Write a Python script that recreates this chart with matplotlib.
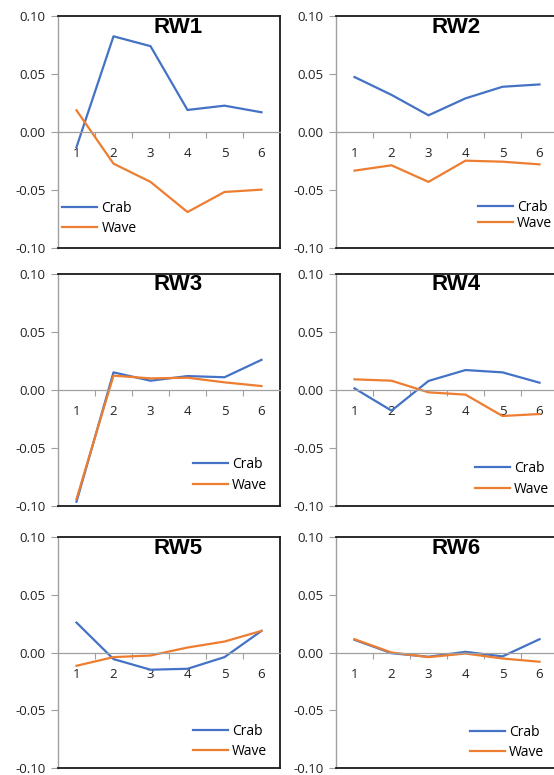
import matplotlib
matplotlib.use('Agg')
import matplotlib.pyplot as plt

# data
cats = [1, 2, 3, 4, 5, 6]
titles = ["RW1", "RW2", "RW3", "RW4", "RW5", "RW6"]

crab_rw1 = [-0.013, 0.0825, 0.074, 0.019, 0.0227, 0.017]
wave_rw1 = [0.0187, -0.0273, -0.043, -0.069, -0.0517, -0.0497]
crab_rw2 = [0.0474, 0.032, 0.0144, 0.029, 0.039, 0.041]
wave_rw2 = [-0.0333, -0.0287, -0.043, -0.0247, -0.0256, -0.0279]
crab_rw3 = [-0.0963, 0.0152, 0.008, 0.012, 0.011, 0.026]
wave_rw3 = [-0.094, 0.0124, 0.010, 0.0106, 0.0066, 0.0034]
crab_rw4 = [0.0014, -0.0178, 0.0078, 0.0172, 0.0152, 0.0063]
wave_rw4 = [0.0092, 0.008, -0.002, -0.004, -0.0224, -0.0207]
crab_rw5 = [0.0259, -0.0057, -0.0149, -0.0141, -0.004, 0.0187]
wave_rw5 = [-0.0115, -0.004, -0.0026, 0.0043, 0.0095, 0.0187]
crab_rw6 = [0.011, -0.0006, -0.0037, 0.0006, -0.0034, 0.0115]
wave_rw6 = [0.0115, 0.0, -0.004, -0.0009, -0.0052, -0.008]

crab = [crab_rw1, crab_rw2, crab_rw3, crab_rw4, crab_rw5, crab_rw6]
wave = [wave_rw1, wave_rw2, wave_rw3, wave_rw4, wave_rw5, wave_rw6]
yticks = [-0.10, -0.05, 0.00, 0.05, 0.10]

BLUE = '#4472C4'
ORANGE = '#ED7D31'
DARK = '#1a1a1a'
GRAY = '#a0a0a0'

plt.rcParams['font.family'] = ['Open Sans', 'DejaVu Sans']

W, H = 554, 775
fig = plt.figure(figsize=(W / 100, H / 100), dpi=100)
fig.set_facecolor('white')

# plot-area boxes in pixels: (left, top, height)
col_left = [58, 336]
row_top = [16, 274, 537]
row_h = [232, 232, 231]
pw = 222

# legend anchor (x, y) in axes fraction, and row spacing
leg_pos = [(0.02, 0.127), (0.64, 0.14), (0.608, 0.134),
           (0.626, 0.116), (0.608, 0.114), (0.604, 0.11)]
leg_space = [0.35, 0.05, 0.45, 0.4, 0.35, 0.35]

for i in range(6):
    r, c = divmod(i, 2)
    L, T, h = col_left[c], row_top[r], row_h[r]
    ax = fig.add_axes([L / W, 1 - (T + h) / H, pw / W, h / H])

    ax.plot(cats, crab[i], color=BLUE, lw=1.6, label="Crab")
    ax.plot(cats, wave[i], color=ORANGE, lw=1.6, label="Wave")

    ax.set_xlim(0.5, 6.5)
    ax.set_ylim(-0.10, 0.10)
    ax.set_yticks(yticks)
    ax.set_yticklabels([f"{v:.2f}" for v in yticks])
    ax.tick_params(axis='y', length=5, color=GRAY, width=0.8, pad=4,
                   labelsize=9.5, labelcolor='#222222')

    # category axis sits on the zero line
    ax.spines['bottom'].set_position(('data', 0))
    ax.spines['bottom'].set_color(GRAY)
    ax.spines['bottom'].set_linewidth(0.9)
    ax.set_xticks(cats)
    ax.set_xticks([x + 0.5 for x in cats[:-1]], minor=True)
    ax.tick_params(axis='x', which='major', length=0, pad=11,
                   labelsize=9.5, labelcolor='#222222')
    ax.tick_params(axis='x', which='minor', length=4, color=GRAY, width=0.8)

    ax.spines['left'].set_color(GRAY)
    ax.spines['left'].set_linewidth(1.0)
    for s in ['top', 'right']:
        ax.spines[s].set_color(DARK)
        ax.spines[s].set_linewidth(1.3)
    # bottom border of the plot area
    ax.axhline(-0.10, color=DARK, lw=1.3, clip_on=False, zorder=5)

    ax.text(0.54, 1 - 11 / h, titles[i], transform=ax.transAxes,
            ha='center', va='center', fontsize=16, fontweight='bold',
            family='Liberation Sans')

    ax.legend(loc='center left', bbox_to_anchor=leg_pos[i], frameon=False,
              borderpad=0, borderaxespad=0, handlelength=2.5,
              handletextpad=0.3, labelspacing=leg_space[i], fontsize=10)

fig.savefig('out.png', dpi=100, facecolor='white')
